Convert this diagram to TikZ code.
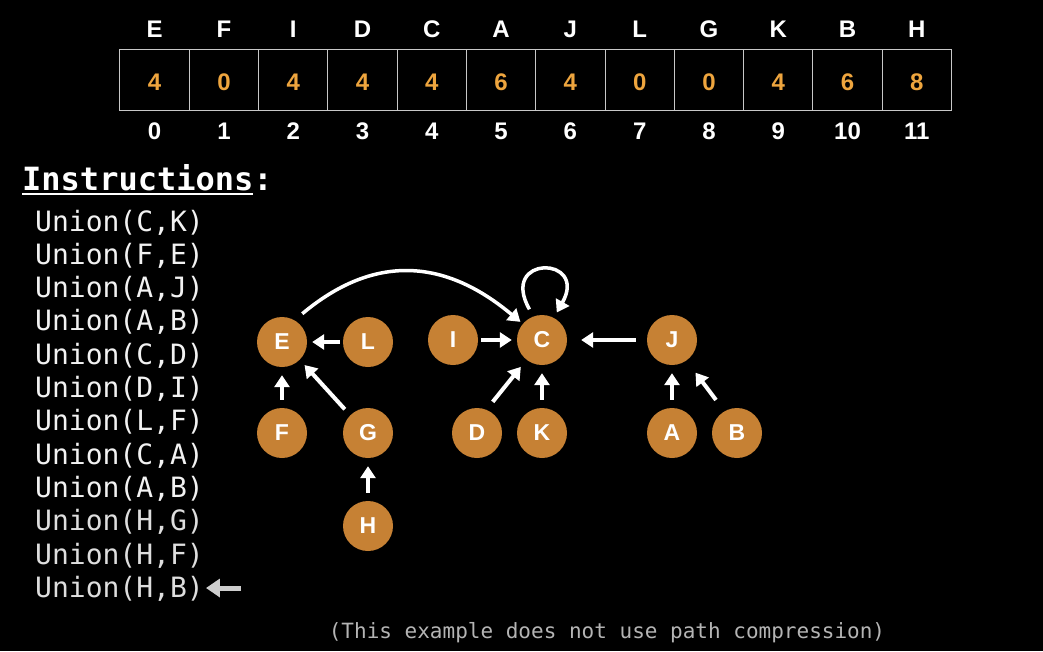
\documentclass[tikz,border=0pt]{standalone}
\usepackage{fontspec}
\setmainfont{Liberation Sans}
\newfontfamily\monofont{DejaVu Sans Mono}
\usetikzlibrary{arrows.meta,calc}
\definecolor{nodefill}{RGB}{198,129,52}
\definecolor{numorange}{RGB}{238,165,62}
\definecolor{boxgray}{RGB}{200,200,200}
\definecolor{instrwhite}{RGB}{242,242,242}
\definecolor{instrgray}{RGB}{222,222,222}
\definecolor{notegray}{RGB}{180,180,180}
\definecolor{pointergray}{RGB}{205,205,205}
\begin{document}
\begin{tikzpicture}[x=1pt,y=-1pt,
  vtx/.style={circle,fill=nodefill,minimum size=50pt,inner sep=0pt,text=white,font=\fontsize{23}{23}\selectfont\bfseries},
  arr/.style={draw=white,line width=4pt,-{Triangle[width=15pt,length=12pt]},shorten <=8pt,shorten >=8pt},
  cellbox/.style={draw=boxgray,line width=1pt,minimum width=69.29pt,minimum height=60.7pt,inner sep=0pt},
  numtxt/.style={inner sep=0pt,text=numorange,font=\fontsize{24}{24}\selectfont\bfseries},
  hdr/.style={inner sep=0pt,text=white,font=\fontsize{24}{24}\selectfont\bfseries},
  instr/.style={anchor=base west,inner sep=0pt,font=\monofont\fontsize{28}{28}\selectfont},
  note/.style={inner sep=0pt,text=notegray,font=\monofont\fontsize{21}{21}\selectfont}
]
\fill[black] (0,0) rectangle (1043,651);
\useasboundingbox (0,0) rectangle (1043,651);

% array
\foreach \l/\v [count=\i from 0] in {E/4,F/0,I/4,D/4,C/4,A/6,J/4,L/0,G/0,K/4,B/6,H/8} {
  \node[cellbox] (cell\i) at ({154.64+69.29*\i},79.7) {};
  \node[numtxt] (num\i) at ({154.64+69.29*\i},82.5) {\v};
  \node[hdr] (lab\i) at ({154.64+69.29*\i},29) {\l};
  \node[hdr] (idx\i) at ({154.64+69.29*\i},131.5) {\i};
}

% instructions
\node[anchor=base west,inner sep=0pt,text=white,font=\monofont\bfseries\fontsize{32}{32}\selectfont] (ins) at (22,190) {Instructions:};
\draw[white,line width=2pt] ($(ins.base west)+(0,3.5)$) -- ($(ins.base west)+(231,3.5)$);
\foreach \a/\b [count=\i from 0] in {C/K,F/E,A/J,A/B,C/D,D/I,L/F,C/A,A/B} {
  \node[instr,text=instrwhite] (u\i) at (35,{231+33.33*\i}) {Union(\a,\b)};
}
\foreach \a/\b [count=\i from 9] in {H/G,H/F,H/B} {
  \node[instr,text=instrgray] (u\i) at (35,{231+33.33*\i}) {Union(\a,\b)};
}
\coordinate (ptr) at (241,588);
\draw[pointergray,line width=5pt,-{Triangle[width=18pt,length=14pt]},shorten >=2pt] (ptr) -- (ptr -| u11.east);

% nodes
\node[vtx] (E) at (282,342) {E};
\node[vtx] (L) at (368,342) {L};
\node[vtx] (F) at (282,433) {F};
\node[vtx] (G) at (368,433) {G};
\node[vtx] (H) at (368,526) {H};
\node[vtx] (I) at (453,340) {I};
\node[vtx] (C) at (542,340) {C};
\node[vtx] (D) at (477,433) {D};
\node[vtx] (K) at (542,433) {K};
\node[vtx] (J) at (672,340) {J};
\node[vtx] (A) at (672,433) {A};
\node[vtx] (B) at (737,433) {B};

% edges
\draw[arr,shorten <=3pt,shorten >=5pt] (L) -- (E);
\draw[arr] (F) -- (E);
\draw[arr,shorten <=8pt,shorten >=7pt] (G.135) -- (E.-45);
\draw[arr] (H) -- (G);
\draw[arr,shorten <=3pt,shorten >=5pt] (I) -- (C);
\draw[arr,shorten <=11pt,shorten >=14pt] (J) -- (C);
\draw[arr,shorten <=10pt,shorten >=9pt] (D.68) -- (C.232);
\draw[arr] (K) -- (C);
\draw[arr] (A) -- (J);
\draw[arr,shorten <=14pt,shorten >=15pt] (B.120) -- (J.-55);
\draw[arr,line width=3.5pt,shorten <=10pt,shorten >=3pt] (E.60) to[out=40,in=140,looseness=1.15] (C.140);
\draw[arr,line width=3.5pt,shorten <=8pt,shorten >=6pt] (C.110) .. controls +(-35,-62) and +(35,-62) .. (C.62);

% note
\node[note] (nt) at (607,633) {(This example does not use path compression)};
\end{tikzpicture}
\end{document}
